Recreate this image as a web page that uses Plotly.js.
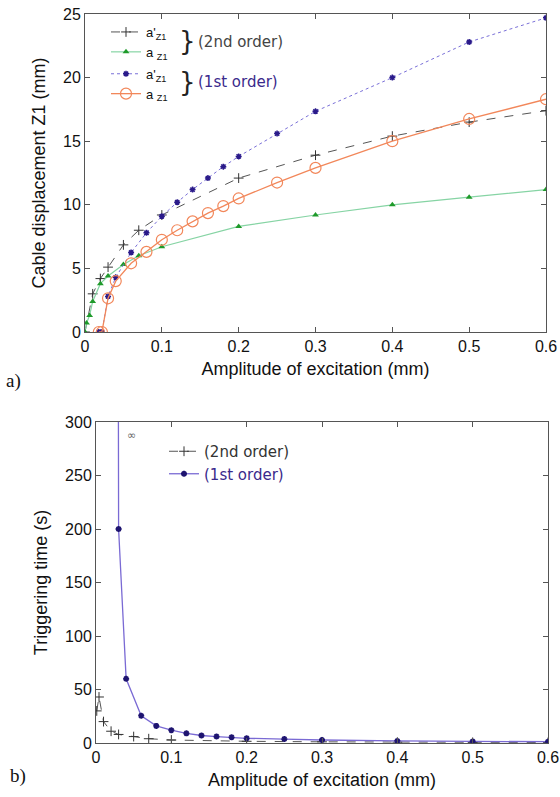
<!DOCTYPE html>
<html><head><meta charset="utf-8">
<script src="https://cdn.plot.ly/plotly-3.0.1.min.js"></script>
<style>html,body{margin:0;padding:0;background:#fff}#chart{width:560px;height:797px}</style>
</head><body><div id="chart"></div>
<script>
// ---- Chart a) cable displacement ----
const aX2ndPrime = [0, 0.01, 0.02, 0.03, 0.05, 0.07, 0.1, 0.2, 0.3, 0.4, 0.5, 0.6];
const aY2ndPrime = [0, 3.0, 4.2, 5.1, 6.85, 8.0, 9.2, 12.1, 13.9, 15.4, 16.5, 17.4];
const aX2nd = [0, 0.002, 0.006, 0.01, 0.02, 0.03, 0.05, 0.07, 0.1, 0.2, 0.3, 0.4, 0.5, 0.6];
const aY2nd = [0, 0.7, 1.3, 2.4, 3.8, 4.4, 5.3, 6.0, 6.7, 8.3, 9.2, 10.0, 10.6, 11.2];
const aX1st = [0.018, 0.022, 0.03, 0.04, 0.06, 0.08, 0.1, 0.12, 0.14, 0.16, 0.18, 0.2, 0.25, 0.3, 0.4, 0.5, 0.6];
const aY1stPrime = [0, 0, 2.8, 4.3, 6.25, 7.8, 9.1, 10.2, 11.2, 12.1, 13.0, 13.8, 15.6, 17.35, 20.0, 22.8, 24.7];
const aY1st = [0, 0, 2.65, 4.0, 5.4, 6.3, 7.25, 8.0, 8.7, 9.35, 9.9, 10.5, 11.75, 12.9, 15.0, 16.75, 18.3];
const aNames = ["a'<sub>Z1</sub>", "a <sub>Z1</sub>", "a'<sub>Z1</sub>", "a <sub>Z1</sub>"];
const aXTicks = [0, 0.1, 0.2, 0.3, 0.4, 0.5, 0.6];
const aYTicks = [0, 5, 10, 15, 20, 25];

// ---- Chart b) triggering time ----
const bX2nd = [0.001, 0.004, 0.01, 0.02, 0.03, 0.05, 0.07, 0.1, 0.2, 0.3, 0.4, 0.5, 0.6];
const bY2nd = [30, 43, 20, 11, 8, 6, 4, 2.8, 1.6, 1.1, 0.8, 0.6, 0.5];
const bX1st = [0.028, 0.03, 0.04, 0.06, 0.08, 0.1, 0.12, 0.14, 0.16, 0.18, 0.2, 0.25, 0.3, 0.4, 0.5, 0.6];
const bY1st = [1000, 200, 60, 25.5, 16, 12, 9, 7, 6, 5.3, 4.4, 3.7, 2.8, 1.9, 1.5, 1.2];
const bNames = ["(2nd order)", "<span style='color:#3a2a8c'>(1st order)</span>"];
const bYTicks = [0, 50, 100, 150, 200, 250, 300];

const W = 560, H = 797;
const px = v => v / W, py = v => 1 - v / H;

const traces = [
  {x: aX2ndPrime, y: aY2ndPrime, name: aNames[0], legendgroup: 'g2', xaxis: 'x', yaxis: 'y', mode: 'lines+markers',
   line: {color: '#555', width: 1, dash: 'dash'}, marker: {symbol: 'cross-thin', size: 7, line: {color: '#333', width: 1}}},
  {x: aX2nd, y: aY2nd, name: aNames[1], legendgroup: 'g2', xaxis: 'x', yaxis: 'y', mode: 'lines+markers',
   line: {color: '#86d4a4', width: 1.2}, marker: {symbol: 'triangle-up', size: 6, color: '#1f9a2a'}},
  {x: aX1st, y: aY1stPrime, name: aNames[2], legendgroup: 'g1', xaxis: 'x', yaxis: 'y', mode: 'lines+markers',
   line: {color: '#7a70d8', width: 1, dash: 'dot'}, marker: {symbol: 'asterisk', size: 5, line: {color: '#2a1a8a', width: 1.5}}},
  {x: aX1st, y: aY1st, name: aNames[3], legendgroup: 'g1', xaxis: 'x', yaxis: 'y', mode: 'lines+markers',
   line: {color: '#f2875a', width: 1.3}, marker: {symbol: 'circle-open', size: 11, line: {color: '#f2875a', width: 1.2}}},
  {x: bX2nd, y: bY2nd, name: bNames[0], legend: 'legend2', xaxis: 'x2', yaxis: 'y2', mode: 'lines+markers',
   line: {color: '#555', width: 1, dash: 'dash'}, marker: {symbol: 'cross-thin', size: 7, line: {color: '#333', width: 1}}},
  {x: bX1st, y: bY1st, name: bNames[1], legend: 'legend2', xaxis: 'x2', yaxis: 'y2', mode: 'lines+markers',
   line: {color: '#7a6ad4', width: 1.3}, marker: {symbol: 'asterisk', size: 5, line: {color: '#1e1470', width: 1.8}}}
];

const tickFont = {family: 'Liberation Sans, Arial, sans-serif', size: 16, color: '#111'};
const titleFont = {family: 'Liberation Sans, Arial, sans-serif', size: 18, color: '#111'};
const axBase = {showline: true, linecolor: '#555', linewidth: 1, mirror: 'ticks', ticks: 'inside', ticklen: 5,
  tickcolor: '#555', showgrid: false, zeroline: false, tickfont: tickFont, automargin: false, ticklabeloverflow: 'allow'};

const braceFont = {family: 'DejaVu Sans', size: 26, color: '#222'};
const layout = {
  width: W, height: H, margin: {l: 0, r: 0, t: 0, b: 0},
  paper_bgcolor: '#fff', plot_bgcolor: '#fff',
  xaxis: Object.assign({}, axBase, {domain: [px(85), px(546)], range: [0, 0.6], tickvals: aXTicks, ticktext: aXTicks.map(String), anchor: 'y',
    title: {text: 'Amplitude of excitation (mm)', font: titleFont, standoff: 8}}),
  yaxis: Object.assign({}, axBase, {domain: [py(332), py(14)], range: [0, 25], tickvals: aYTicks, anchor: 'x',
    title: {text: 'Cable displacement Z1 (mm)', font: titleFont, standoff: 12}}),
  xaxis2: Object.assign({}, axBase, {domain: [px(96), px(548)], range: [0, 0.6], tickvals: aXTicks, ticktext: aXTicks.map(String), anchor: 'y2',
    title: {text: 'Amplitude of excitation (mm)', font: titleFont, standoff: 8}}),
  yaxis2: Object.assign({}, axBase, {domain: [py(743), py(422)], range: [0, 300], tickvals: bYTicks, anchor: 'x2',
    title: {text: 'Triggering time (s)', font: titleFont, standoff: 12}}),
  legend: {x: px(106), y: py(17), xanchor: 'left', yanchor: 'top', bgcolor: 'rgba(0,0,0,0)', traceorder: 'grouped', tracegroupgap: 2,
    font: {family: 'Liberation Sans, Arial, sans-serif', size: 13, color: '#111'}},
  legend2: {x: px(164), y: py(435), xanchor: 'left', yanchor: 'top', bgcolor: 'rgba(0,0,0,0)',
    font: {family: 'DejaVu Sans, sans-serif', size: 15, color: '#333'}},
  annotations: [
    {xref: 'paper', yref: 'paper', x: px(187), y: py(41), xanchor: 'center', yanchor: 'middle', text: '}', showarrow: false, font: braceFont},
    {xref: 'paper', yref: 'paper', x: px(196), y: py(42), xanchor: 'left', yanchor: 'middle', text: '(2nd order)', showarrow: false, font: {family: 'DejaVu Sans', size: 15, color: '#444'}},
    {xref: 'paper', yref: 'paper', x: px(187), y: py(82), xanchor: 'center', yanchor: 'middle', text: '}', showarrow: false, font: braceFont},
    {xref: 'paper', yref: 'paper', x: px(196), y: py(82), xanchor: 'left', yanchor: 'middle', text: '(1st order)', showarrow: false, font: {family: 'DejaVu Sans', size: 15, color: '#3a2a8c'}},
    {xref: 'paper', yref: 'paper', x: px(131), y: py(436), xanchor: 'center', yanchor: 'middle', text: '∞', showarrow: false, font: {family: 'DejaVu Sans', size: 11, color: '#666'}},
    {xref: 'paper', yref: 'paper', x: px(4), y: py(381), xanchor: 'left', yanchor: 'middle', text: 'a)', showarrow: false, font: {family: 'Liberation Serif, Times New Roman, serif', size: 19, color: '#111'}},
    {xref: 'paper', yref: 'paper', x: px(8), y: py(776), xanchor: 'left', yanchor: 'middle', text: 'b)', showarrow: false, font: {family: 'Liberation Serif, Times New Roman, serif', size: 19, color: '#111'}}
  ]
};

Plotly.newPlot('chart', traces, layout, {displayModeBar: false, staticPlot: true});
</script>
</body></html>
